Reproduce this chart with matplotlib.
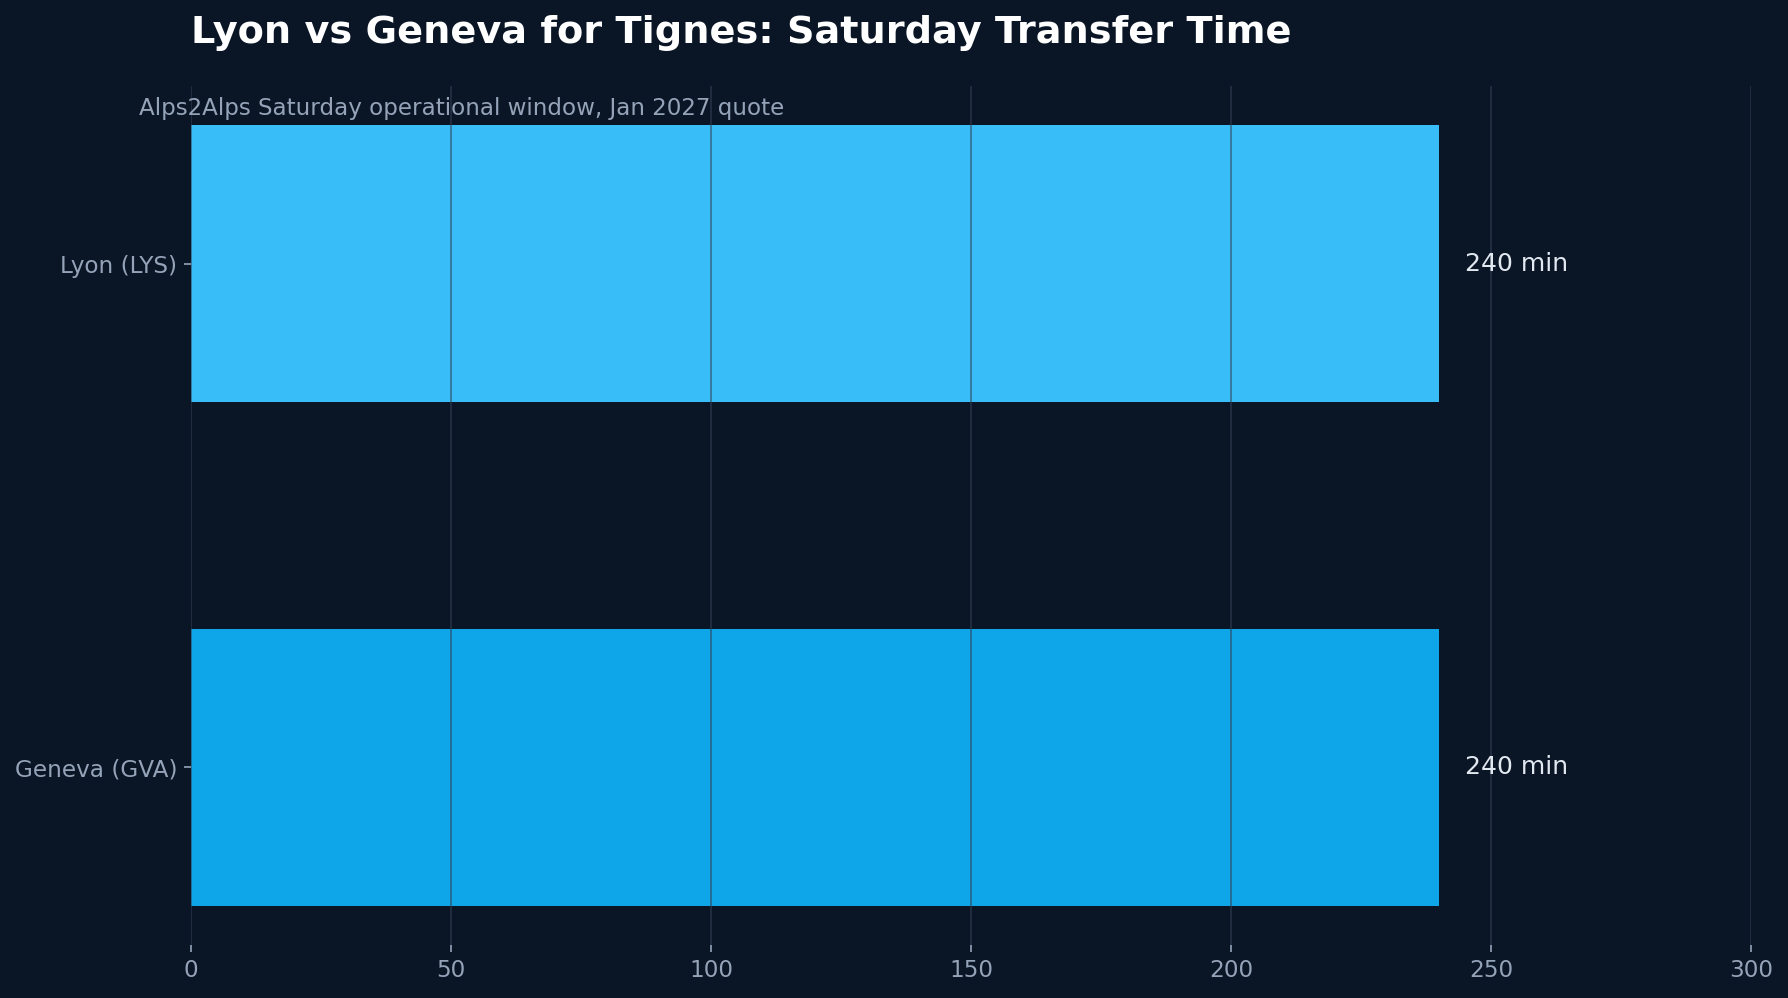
import matplotlib
matplotlib.use("Agg")
import matplotlib.pyplot as plt

# datos
airports = ["Lyon (LYS)", "Geneva (GVA)"]
transfer_min = [240, 240]
bar_colors = ["#38bdf8", "#0ea5e9"]
xticks = [0, 50, 100, 150, 200, 250, 300]

BG = "#0a1526"
MUTED = "#94a3b8"

fig = plt.figure(figsize=(8.94, 4.99), dpi=200, facecolor=BG)
ax = fig.add_axes([0.1068, 0.0531, 0.9793 - 0.1068, 0.9138 - 0.0531])
ax.set_facecolor(BG)

y = range(len(airports))
ax.barh(y, transfer_min, height=0.55, color=bar_colors, zorder=1)
ax.invert_yaxis()

# etiquetas de valor
for i, v in enumerate(transfer_min):
    ax.text(v + 5, i, f"{v} min", va="center", ha="left", color="#e2e8f0", fontsize=9)

ax.set_yticks(list(y))
ax.set_yticklabels(airports)
ax.set_xticks(xticks)
ax.set_xlim(0, 300)

ax.grid(axis="x", color="#334155", alpha=0.55, linewidth=0.7, zorder=2)
ax.set_axisbelow(False)
for s in ax.spines.values():
    s.set_visible(False)
ax.tick_params(colors=MUTED, labelsize=8.35, length=2.4, width=0.6, pad=2.5)

fig.text(0.1068, 0.967, "Lyon vs Geneva for Tignes: Saturday Transfer Time",
         fontsize=13.75, fontweight="bold", color="white", va="center", ha="left")
fig.text(0.078, 0.8915, "Alps2Alps Saturday operational window, Jan 2027 quote",
         fontsize=8.3, color=MUTED, va="center", ha="left")

fig.savefig("out.png", dpi=200, facecolor=BG)
